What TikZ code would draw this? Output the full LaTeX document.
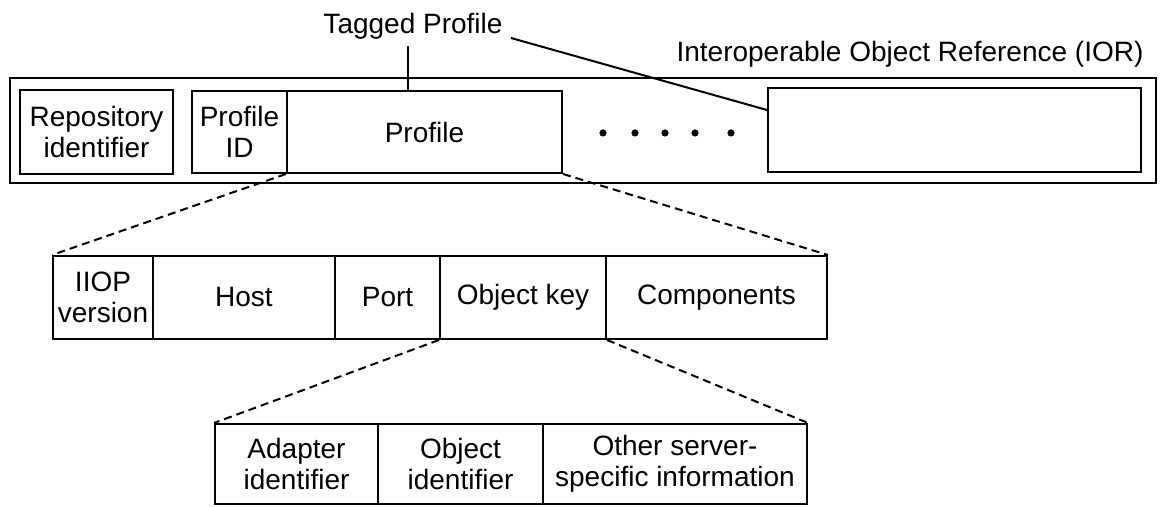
\documentclass[tikz,border=0pt]{standalone}
\usepackage{fontspec}
\setmainfont{Liberation Sans}
\begin{document}
\begin{tikzpicture}[x=0.5pt,y=-0.5pt,
  box/.style={draw, line width=1pt, inner sep=0pt, align=center,
              font=\fontsize{14}{15.5}\selectfont},
  lbl/.style={inner sep=0pt, font=\fontsize{14}{15.5}\selectfont},
  zoomline/.style={line width=1pt, dash pattern=on 4pt off 2.5pt},
  plainline/.style={line width=1pt},
  dotmark/.style={circle, fill, inner sep=0pt, minimum size=3.6pt}]
\useasboundingbox (0,0) rectangle (1164,507);

% outer IOR box
\node[box, minimum width=573pt, minimum height=52.5pt] (ior) at (583,130.5) {};
% inner boxes
\node[box, minimum width=76.5pt, minimum height=42pt] (repo) at (96.5,132) {Repository\\identifier};
\node[box, minimum width=47.5pt, minimum height=41pt] (pid) at (239.5,132) {Profile\\ID};
\node[box, minimum width=137.5pt, minimum height=41pt] (prof) at (424.5,132) {Profile};
\node[box, minimum width=186.5pt, minimum height=42pt] (rbox) at (954.5,130) {};

% dots
\node[dotmark] (d1) at (603,133) {};
\node[dotmark] (d2) at (635,133) {};
\node[dotmark] (d3) at (665,133) {};
\node[dotmark] (d4) at (695,133) {};
\node[dotmark] (d5) at (731,133) {};

% labels
\node[lbl, anchor=base] (tp) at (413,34) {Tagged Profile};
\node[lbl, anchor=base] (iorl) at (910,62) {Interoperable Object Reference (IOR)};
\coordinate (tpe) at (511,38);
\draw[plainline] ([xshift=-2.5pt,yshift=-3pt]tp.south) -- ([xshift=-2.5pt]tp.south |- prof.north);
\draw[plainline] (tpe) -- ([yshift=10pt]rbox.west);

% middle row
\node[box, minimum width=50pt, minimum height=41.5pt] (iiop) at (103,297.5) {IIOP\\version};
\node[box, minimum width=91pt, minimum height=41.5pt] (host) at (244,297.5) {Host};
\node[box, minimum width=52.5pt, minimum height=41.5pt] (port) at (387.5,297.5) {Port};
\node[box, minimum width=83pt, minimum height=41.5pt] (okey) at (523,297.5) {Object key};
\node[box, minimum width=110.5pt, minimum height=41.5pt] (comp) at (716.5,297.5) {Components};

% bottom row
\node[box, minimum width=81.5pt, minimum height=40pt] (adap) at (296.5,464) {Adapter\\identifier};
\node[box, minimum width=82.5pt, minimum height=40pt] (oid) at (460.5,464) {Object\\identifier};
\node[box, minimum width=132pt, minimum height=40pt] (other) at (675,464) {Other server-\\specific information};

% zoom lines
\draw[zoomline] (prof.south west) -- (iiop.north west);
\draw[zoomline] (prof.south east) -- (comp.north east);
\draw[zoomline] (okey.south west) -- (adap.north west);
\draw[zoomline] (okey.south east) -- (other.north east);
\end{tikzpicture}
\end{document}
